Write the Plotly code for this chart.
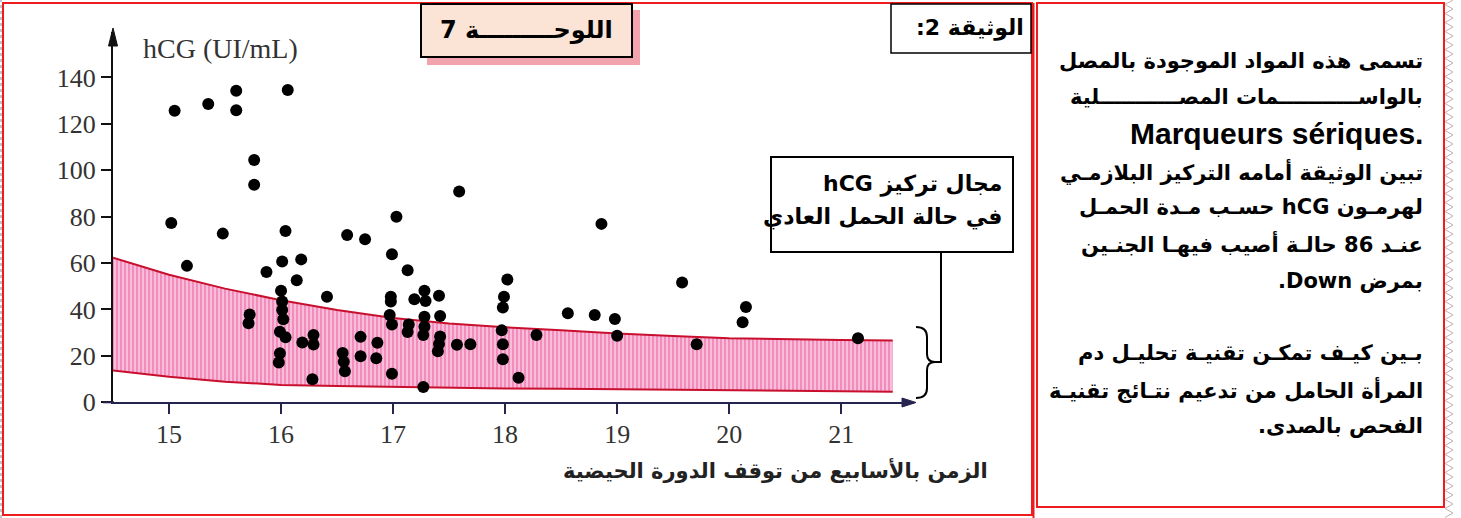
import plotly.graph_objects as go

W, H = 1461, 518

# ---------------- data ----------------
weeks = [15.05, 15.35, 15.60, 15.60, 16.06, 15.76, 15.76, 15.02, 15.48, 16.04,
         16.59, 16.75, 17.03, 17.59, 16.99, 16.01, 16.18, 15.16, 15.87, 16.14,
         16.00, 16.41, 17.13, 16.01, 16.01, 16.02, 15.99, 16.04, 15.99, 15.98,
         15.72, 15.71, 16.19, 16.29, 16.29, 16.28, 16.55, 16.56, 16.57, 16.71,
         16.71, 16.86, 16.85, 16.98, 16.98, 16.97, 16.99, 16.99, 17.19, 17.28,
         17.29, 17.41, 17.42, 17.14, 17.13, 17.28, 17.28, 17.27, 17.42, 17.41,
         17.40, 17.57, 17.69, 17.27, 18.02, 17.99, 17.98, 17.97, 17.98, 17.98,
         18.12, 18.28, 18.56, 18.80, 18.98, 19.00, 18.86, 19.58, 20.15, 20.12,
         19.71, 21.15]
hcg = [125.7, 128.6, 134.3, 125.9, 134.6, 104.4, 93.8, 77.3, 72.7, 73.8,
       72.1, 70.3, 80.0, 90.9, 63.8, 60.7, 61.6, 58.8, 56.2, 52.6,
       48.1, 45.5, 56.9, 43.4, 39.8, 35.8, 30.4, 28.0, 21.1, 17.2,
       37.8, 34.1, 25.8, 29.0, 24.9, 9.9, 21.2, 17.5, 13.4, 28.2,
       19.8, 25.7, 19.0, 45.5, 43.4, 37.6, 33.5, 12.3, 44.4, 48.1,
       43.7, 45.9, 37.2, 33.5, 30.3, 36.9, 32.6, 29.0, 28.4, 25.1,
       22.0, 24.8, 25.0, 6.6, 52.9, 45.5, 40.9, 31.0, 25.0, 18.6,
       10.6, 29.0, 38.4, 37.6, 35.9, 28.7, 76.9, 51.6, 41.1, 34.5,
       25.0, 27.6]

band_weeks = [14.5, 15.0, 15.5, 16.0, 16.5, 17.0, 17.5, 18.0, 18.5, 19.0, 19.5, 20.0, 21.0, 21.46]
band_high = [62.3, 55.0, 49.0, 44.0, 39.8, 36.3, 34.0, 32.3, 31.0, 29.6, 28.6, 27.6, 26.8, 26.6]
band_low = [13.7, 11.0, 8.9, 7.5, 7.0, 6.6, 6.3, 6.0, 5.8, 5.6, 5.4, 5.2, 4.8, 4.6]

x_ticks = [15, 16, 17, 18, 19, 20, 21]
y_ticks = [0, 20, 40, 60, 80, 100, 120, 140]

RLE, PDF = "\u202b", "\u202c"
title_box = "اللوحـــــــــة 7"
doc_label = "الوثيقة 2:"
range_label = ["مجال تركيز hCG", "في حالة الحمل العادي"]
x_title = "الزمن بالأسابيع من توقف الدورة الحيضية"
y_title = "hCG (UI/mL)"
side_lines = [
    "تسمى هذه المواد الموجودة بالمصل",
    "بالواســـــــــــمات المصـــــــــــلية",
    "Marqueurs sériques.",
    "تبين الوثيقة أمامه التركيز البلازمـي",
    "لهرمـون hCG حسـب مـدة الحمـل",
    "عنـد 86 حالـة أصيب فيهـا الجنـين",
    "بمرض Down.",
    "بـين كيـف تمكـن تقنيـة تحليـل دم",
    "المرأة الحامل من تدعيم نتـائج تقنيـة",
    "الفحص بالصدى.",
]
side_y = [61, 97, 133, 171, 207, 243, 281, 353, 389, 426]


def fx(p):
    return p / W


def fy(p):
    return 1 - p / H


def rtl(s):
    return RLE + s + PDF


fig = go.Figure()

fig.add_trace(go.Scatter(x=band_weeks, y=band_low, mode="lines",
                         line=dict(color="#c8102e", width=2), hoverinfo="skip"))
fig.add_trace(go.Scatter(x=band_weeks, y=band_high, mode="lines", fill="tonexty",
                         fillcolor="#f39ac4",
                         fillpattern=dict(shape="|", bgcolor="#f28cbd", fgcolor="#fbd3e6",
                                          size=4, solidity=0.35, fillmode="replace"),
                         line=dict(color="#c8102e", width=2), hoverinfo="skip"))
fig.add_trace(go.Scatter(x=weeks, y=hcg, mode="markers",
                         marker=dict(color="black", size=12, line=dict(width=0))))

AR = "DejaVu Sans"
SERIF = "Liberation Serif"

fig.update_layout(
    width=W, height=H, autosize=False,
    margin=dict(l=0, r=0, t=0, b=0, pad=0, autoexpand=False),
    paper_bgcolor="white", plot_bgcolor="rgba(0,0,0,0)",
    showlegend=False,
    xaxis=dict(domain=[fx(113), fx(914)], range=[14.5, 21.65], tickvals=x_ticks,
               automargin=False,
               showgrid=False, zeroline=False, showline=True, linecolor="#24244e",
               linewidth=2, ticks="outside", ticklen=10, tickwidth=2, tickcolor="#24244e",
               tickfont=dict(family=SERIF, size=26, color="#333333"),
               ticklabelstandoff=-3),
    yaxis=dict(domain=[fy(402.3), fy(32)], range=[0, 159.6], tickvals=y_ticks,
               automargin=False,
               showgrid=False, zeroline=False, showline=True, linecolor="#111111",
               linewidth=2, ticks="outside", ticklen=10, tickwidth=2, tickcolor="#111111",
               tickfont=dict(family=SERIF, size=26, color="#333333"),
               ticklabelstandoff=0),
)

shapes = []
# outer red frame of left panel
shapes.append(dict(type="rect", xref="paper", yref="paper", x0=fx(3), x1=fx(1032),
                   y0=fy(515), y1=fy(3), line=dict(color="#ee1c1c", width=2)))
# right panel frame
shapes.append(dict(type="rect", xref="paper", yref="paper", x0=fx(1037), x1=fx(1444),
                   y0=fy(507), y1=fy(3), line=dict(color="#ee1c1c", width=2)))
shapes.append(dict(type="line", xref="paper", yref="paper", x0=fx(1033.5), x1=fx(1033.5),
                   y0=fy(518), y1=fy(3), line=dict(color="#ee1c1c", width=2)))
# dotted left edge
shapes.append(dict(type="line", xref="paper", yref="paper", x0=fx(1), x1=fx(1),
                   y0=0, y1=1, line=dict(color="#888888", width=1, dash="dot")))
# zigzag right edge
zz = []
k = 0
yy = 0.0
while yy <= H:
    xx = 1453 if k % 2 == 0 else 1445
    zz.append(f"{fx(xx):.5f},{fy(yy):.5f}")
    yy += 4.5
    k += 1
shapes.append(dict(type="path", xref="paper", yref="paper", path="M " + " L ".join(zz),
                   line=dict(color="#c4b0b0", width=1)))

# title box with pink shadow
shapes.append(dict(type="rect", xref="paper", yref="paper", x0=fx(427), x1=fx(640),
                   y0=fy(65), y1=fy(10), line=dict(width=0), fillcolor="#f3a3ad",
                   layer="below"))
shapes.append(dict(type="rect", xref="paper", yref="paper", x0=fx(421), x1=fx(632),
                   y0=fy(57), y1=fy(4), line=dict(color="black", width=2),
                   fillcolor="#fbe4d5"))
# document label box
shapes.append(dict(type="rect", xref="paper", yref="paper", x0=fx(891), x1=fx(1031),
                   y0=fy(53), y1=fy(4), line=dict(color="black", width=1.5),
                   fillcolor="white"))
# normal-range label box
shapes.append(dict(type="rect", xref="paper", yref="paper", x0=fx(771), x1=fx(1013),
                   y0=fy(252), y1=fy(157), line=dict(color="black", width=2),
                   fillcolor="white"))
# connector line
shapes.append(dict(type="path", xref="paper", yref="paper",
                   path=f"M {fx(941)},{fy(252)} L {fx(941)},{fy(362)} L {fx(934)},{fy(362)}",
                   line=dict(color="black", width=2)))
# brace
bp = [("M", 916, 327), ("Q", 927, 327, 927, 337), ("L", 927, 354),
      ("Q", 927, 362, 935, 362), ("Q", 927, 362, 927, 370), ("L", 927, 388),
      ("Q", 927, 398, 916, 398)]
parts = []
for seg in bp:
    c = seg[0]
    nums = seg[1:]
    pts = []
    for i in range(0, len(nums), 2):
        pts.append(f"{fx(nums[i]):.5f},{fy(nums[i+1]):.5f}")
    parts.append(c + " " + " ".join(pts))
shapes.append(dict(type="path", xref="paper", yref="paper", path=" ".join(parts),
                   line=dict(color="black", width=2)))
# x axis short extension left of the y axis
shapes.append(dict(type="line", xref="paper", yref="paper", x0=fx(103), x1=fx(114),
                   y0=fy(402.3), y1=fy(402.3), line=dict(color="#24244e", width=2)))
# axis arrowheads
shapes.append(dict(type="path", xref="paper", yref="paper",
                   path=f"M {fx(902)},{fy(398)} L {fx(916)},{fy(402.5)} L {fx(902)},{fy(407)} Z",
                   fillcolor="#24244e", line=dict(color="#24244e", width=1)))
shapes.append(dict(type="path", xref="paper", yref="paper",
                   path=f"M {fx(108.5)},{fy(46)} L {fx(113)},{fy(28)} L {fx(117.5)},{fy(46)} Z",
                   fillcolor="#111111", line=dict(color="#111111", width=1)))
fig.update_layout(shapes=shapes)

ann = []
ann.append(dict(text=y_title, x=fx(141), y=fy(48), xref="paper", yref="paper",
                xanchor="left", yanchor="middle", showarrow=False,
                font=dict(family=SERIF, size=28, color="#333333")))
ann.append(dict(text="<b>" + rtl(x_title) + "</b>", x=fx(990), y=fy(470), xref="paper",
                yref="paper", xanchor="right", yanchor="middle", showarrow=False,
                font=dict(family=AR, size=21, color="#222222")))
ann.append(dict(text="<b>" + rtl(title_box) + "</b>", x=fx(526), y=fy(30), xref="paper",
                yref="paper", xanchor="center", yanchor="middle", showarrow=False,
                font=dict(family=AR, size=24, color="black")))
ann.append(dict(text="<b>" + rtl(doc_label) + "</b>", x=fx(1026), y=fy(28), xref="paper",
                yref="paper", xanchor="right", yanchor="middle", showarrow=False,
                font=dict(family=AR, size=22, color="black")))
for i, line in enumerate(range_label):
    ann.append(dict(text="<b>" + rtl(line) + "</b>", x=fx(1004), y=fy(184 + 33 * i),
                    xref="paper", yref="paper", xanchor="right", yanchor="middle",
                    showarrow=False, font=dict(family=AR, size=22, color="black")))
for line, yv in zip(side_lines, side_y):
    is_latin = line.startswith("Marqueurs")
    txt = line if is_latin else rtl(line)
    ann.append(dict(text="<b>" + txt + "</b>", x=fx(1425), y=fy(yv), xref="paper",
                    yref="paper", xanchor="right", yanchor="middle", showarrow=False,
                    font=dict(family="Liberation Sans" if is_latin else AR,
                              size=30 if is_latin else 21, color="black")))
fig.update_layout(annotations=ann)

fig.write_html("out.html",
               config={"displayModeBar": False, "responsive": False},
               post_script="document.body.style.margin='0';document.body.style.overflow='hidden';")
